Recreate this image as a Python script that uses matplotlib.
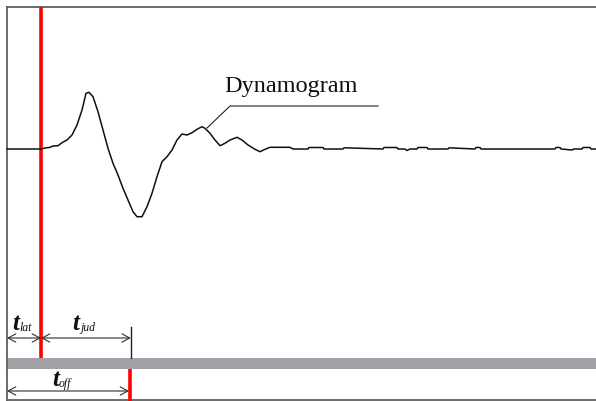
import matplotlib.pyplot as plt

# dynamogram trace, sampled in screen units (x right, y down)
trace_x = [7, 41, 45, 50, 53, 58, 62, 67, 72, 77, 82, 86, 89, 93, 98, 103,
           108, 113, 118, 123, 128, 133, 137, 142, 147, 152, 157, 162, 167,
           172, 177, 182, 187, 192, 197, 202, 205, 210, 215, 220, 225, 230,
           237, 242, 248, 255, 260, 265, 270, 290, 293, 308, 309, 323, 324,
           343, 344, 383, 384, 397, 398, 405, 407, 410, 417, 418, 427, 428,
           448, 449, 475, 476, 480, 481, 555, 556, 560, 561, 572, 574, 582,
           583, 590, 591, 596]
trace_y = [149, 149, 148, 147.3, 146, 145.7, 142.7, 140, 135, 125, 110, 93.3,
           92.3, 96.7, 111.7, 130, 148.3, 163.3, 175, 188.3, 200, 211.7,
           216.7, 216.7, 206.7, 193.3, 176.7, 161.7, 156.7, 150, 140, 134,
           135, 132.7, 129.3, 126.7, 128.3, 133.3, 140, 145.7, 143.3, 140,
           137.3, 140, 145, 149.3, 151.7, 149.3, 147.3, 147.3, 149, 149, 147.5,
           147.5, 149, 149, 147.8, 149, 147.5, 147.5, 149, 149, 150.5, 149, 149,
           147.5, 147.5, 149, 149, 147.8, 149, 147.5, 147.5, 149, 149, 147.5,
           147.5, 149, 150, 149, 149, 147.5, 147.5, 149, 149]

# time marks on the screen x axis
t_start = 41      # stimulus onset / start of movement
t_release = 130   # switch-off moment
x_origin = 7

fig = plt.figure(figsize=(5.96, 4.01), dpi=100)
ax = fig.add_axes([0, 0, 1, 1])
ax.set_xlim(0, 596)
ax.set_ylim(401, 0)
ax.axis('off')

# frame (left, top, bottom)
frame_c = '#606060'
ax.plot([x_origin, x_origin], [401, 7.3], color=frame_c, lw=1.3)
ax.plot([x_origin, 596], [7.3, 7.3], color=frame_c, lw=1.3)
ax.plot([x_origin, 596], [399.6, 399.6], color=frame_c, lw=1.3)

# grey status bar
ax.fill_between([x_origin, 596], 357.5, 369.3, color='#a2a2a6', lw=0)

# red markers
ax.plot([t_start, t_start], [7.3, 357.5], color='#ff0000', lw=2.6,
        solid_capstyle='butt')
ax.plot([t_release, t_release], [369.3, 401], color='#ff0000', lw=2.6,
        solid_capstyle='butt')
ax.plot([t_release + 0.8, t_release + 0.8], [327, 357.5], color='#202020',
        lw=1)

# curve
ax.plot(trace_x, trace_y, color='#101010', lw=1.1)

# leader line and caption
ax.plot([378, 230, 207], [106, 106, 128], color='#202020', lw=0.8)
serif = ['Liberation Serif', 'DejaVu Serif']
ax.text(224, 92, 'Dynamogram', family=serif, fontsize=17.5, va='baseline',
        ha='left', color='#101010')

# interval arrows
arrow = dict(arrowstyle='<->,head_length=0.55,head_width=0.3',
             color='#303030', lw=0.8, shrinkA=0, shrinkB=0)
ax.annotate('', xy=(t_start, 338), xytext=(x_origin, 338), arrowprops=arrow)
ax.annotate('', xy=(t_release + 0.8, 338), xytext=(t_start, 338),
            arrowprops=arrow)
ax.annotate('', xy=(t_release - 1, 391), xytext=(x_origin, 391),
            arrowprops=arrow)


def t_label(x, y, sub, gap=7.5):
    ax.text(x, y, 't', family=serif, fontsize=18, fontweight='bold',
            style='italic', va='baseline', ha='left', color='#101010')
    ax.text(x + gap, y + 1.5, sub, family=serif, fontsize=8.5,
            style='italic', va='baseline', ha='left', color='#101010')


t_label(12, 329.5, 'lat')
t_label(72.5, 329.5, 'jud')
t_label(52.5, 386, 'off', gap=6)

fig.savefig('out.png', dpi=100)
